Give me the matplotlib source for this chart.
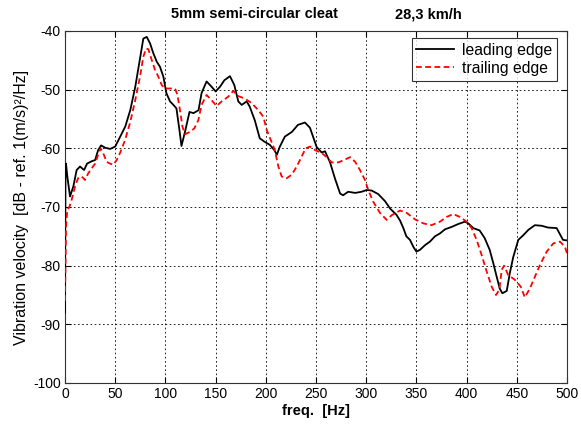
import matplotlib
matplotlib.use("Agg")
import matplotlib.pyplot as plt

plt.rcParams['font.family'] = ['Liberation Sans', 'DejaVu Sans']
plt.rcParams['axes.unicode_minus'] = False

# Leading edge spectrum (freq in Hz, level in dB)
lead_f = [0, 0.5, 1, 2.3, 5, 8.3, 11.6, 15, 19, 22, 26.6, 30, 33, 36, 40, 45, 50, 55, 60,
          65, 70, 75, 78, 81.4, 84.7, 88, 91.3, 94.6, 98, 101, 104.6, 108, 111, 114, 116,
          119.5, 124, 128, 133, 136, 141, 146, 150, 154.4, 158.7, 164.3, 168.6, 172.6, 176,
          181, 184, 189, 194, 199, 204, 208.5, 211, 214, 219, 226, 232, 239, 244, 250.7,
          255.6, 259, 264, 269, 274, 277, 282, 289, 295.5, 300.5, 305.5, 312, 318.7, 324,
          330, 333.7, 337, 340, 343.6, 347, 350, 353.6, 358.6, 363.5, 368.5, 373.5, 378.5,
          385, 391.7, 398.4, 401.7, 406.7, 413, 418, 423, 426.6, 430, 433, 435.6, 440, 443,
          446.5, 451.5, 456.5, 461.5, 468, 474.8, 481, 489.7, 496, 500]
lead_db = [-88, -63, -62.6, -64.8, -68.2, -66.5, -63.7, -63.1, -63.7, -62.6, -62.2, -62, -60.3,
           -59.5, -59.9, -60.1, -59.7, -58, -56.3, -53.5, -49.5, -44.4, -41.3, -41, -42.1,
           -43.8, -45.2, -46.1, -47.8, -50.6, -52, -52.6, -53.2, -56.9, -59.6, -57.2, -53.8,
           -54, -53.5, -50.6, -48.6, -49.5, -50.3, -49.5, -48.4, -47.7, -49.2, -52, -52.6,
           -52, -52.9, -55.2, -58.3, -58.9, -59.4, -60.3, -61.1, -59.7, -58, -57.2, -56,
           -55.6, -56.5, -59.8, -60.7, -60.5, -62.4, -65.2, -67.7, -68, -67.4, -67.6, -67.4,
           -67.1, -67.2, -67.8, -69, -70.3, -71.3, -72.3, -73.6, -75, -75.6, -76.8, -77.6,
           -77.3, -76.5, -75.9, -75, -74.5, -73.8, -73.4, -72.9, -72.5, -72.8, -73.6, -74,
           -75.3, -77.3, -79.6, -81.9, -83.9, -84.7, -84.3, -81.3, -78.5, -75.6, -74.8,
           -73.9, -73.1, -73.2, -73.5, -73.6, -75.6, -75.7]

# Trailing edge spectrum (freq in Hz, level in dB)
trail_f = [0, 1, 2.3, 4.3, 6.6, 10, 13, 16.6, 20, 23, 26.6, 30, 33, 35.5, 38, 41.5, 44.8, 48,
           51.5, 54.8, 59.8, 64.7, 69.7, 74.7, 78, 80.7, 83, 86.3, 89.6, 93, 96.3, 99.6,
           104.6, 109.6, 112, 114.5, 117, 119.5, 124.5, 128.8, 132.8, 136, 141, 146, 151,
           156, 162.6, 167.6, 172.6, 179, 186, 192.5, 197.5, 201, 205, 209, 212.5, 215.8,
           220.8, 225.8, 230.8, 235.7, 239.7, 244, 249, 255.7, 260.6, 265.6, 272.3, 279,
           284, 289, 293.8, 298.8, 302, 307, 313.7, 320.4, 325.4, 333.7, 340.3, 348.6, 357,
           365, 373.5, 380, 386.8, 393.4, 400, 405, 410, 415, 420, 425, 429.3, 432.6, 435,
           437.3, 441.5, 448, 454, 458, 463, 468, 473, 479.8, 486.4, 493, 498, 500]
trail_db = [-86, -73.4, -70.5, -70, -68.8, -66.5, -65.1, -64.8, -65.4, -64.3, -63.4, -62.6,
            -61.1, -60, -60.8, -62.3, -62.6, -62.8, -62, -60.8, -58.6, -55.7, -52, -47.8,
            -44.4, -43, -43.1, -44.9, -46.6, -47.8, -49.2, -49.8, -49.8, -49.8, -50.9, -53.5,
            -56.3, -57.6, -57.2, -56.6, -55.2, -52.6, -50.9, -51.8, -52.8, -52, -51.2, -50.2,
            -51.1, -51.5, -52.3, -53.5, -54.6, -56.9, -58.6, -60.3, -63.1, -64.8, -65.1,
            -64.5, -63.1, -61.4, -60, -59.7, -60.3, -60.8, -61.5, -62.4, -62.4, -61.9, -61.5,
            -62.3, -63.7, -65.4, -67.1, -69.1, -71, -72.2, -71.4, -70.6, -71, -72.1, -72.8,
            -73.1, -72.5, -71.7, -71.2, -71.7, -72.5, -73.6, -75.6, -78.2, -81, -83.6, -85,
            -84.1, -80.7, -80, -81.6, -82.4, -83.6, -85.4, -83.9, -81.9, -79.9, -77.6, -76.2,
            -75.9, -76.8, -77.9]

x_ticks = [0, 50, 100, 150, 200, 250, 300, 350, 400, 450, 500]
y_ticks = [-100, -90, -80, -70, -60, -50, -40]

fig = plt.figure(figsize=(5.81, 4.25), dpi=100)
fig.patch.set_facecolor('white')
ax = fig.add_axes([65 / 581, 1 - 383 / 425, 502 / 581, 352 / 425])

ax.plot(lead_f, lead_db, color='black', lw=1.3, label='leading edge', zorder=3)
ax.plot(trail_f, trail_db, color='red', lw=1.3, linestyle=(0, (3.2, 1.9)),
        label='trailing edge', zorder=3)

ax.set_xlim(0, 500)
ax.set_ylim(-100, -40)
ax.set_xticks(x_ticks)
ax.set_yticks(y_ticks)
ax.grid(True, color='black', linestyle=(0, (2, 3)), linewidth=0.6)
ax.tick_params(direction='in', top=True, right=True, length=4, width=0.8,
               labelsize=10, pad=3, colors='black')
for s in ax.spines.values():
    s.set_linewidth(0.8)
    s.set_color('#333333')

ax.set_xlabel('freq.  [Hz]', fontsize=10.5, fontweight='bold', labelpad=2)
ax.set_ylabel('Vibration velocity  [dB - ref. 1(m/s)²/Hz]', fontsize=11.5, labelpad=3)

fig.text(254.5 / 581, 1 - 14.5 / 425, '5mm semi-circular cleat', ha='center', va='center',
         fontsize=10.5, fontweight='bold')
fig.text(428 / 581, 1 - 14.5 / 425, '28,3 km/h', ha='center', va='center',
         fontsize=10.5, fontweight='bold')

leg = ax.legend(loc='upper right', bbox_to_anchor=(0.98, 0.98), borderaxespad=0,
                fontsize=11.3, frameon=True, fancybox=False, handlelength=2.4,
                handletextpad=0.5, borderpad=0.3, labelspacing=0.2)
leg.get_frame().set_edgecolor('black')
leg.get_frame().set_linewidth(0.8)

fig.savefig('out.png', dpi=100, facecolor='white')
